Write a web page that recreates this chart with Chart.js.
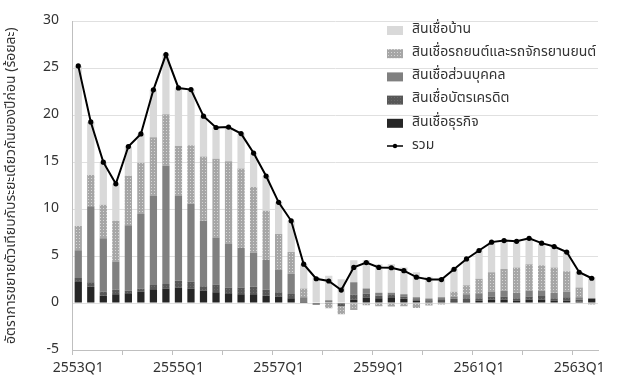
<!DOCTYPE html>
<html>
<head>
<meta charset="utf-8">
<script src="https://cdn.jsdelivr.net/npm/chart.js@4"></script>
<style>
html,body{margin:0;padding:0;background:#fff;}
#wrap{width:620px;height:382px;}
</style>
</head>
<body>
<div id="wrap"><canvas id="c" width="620" height="382"></canvas></div>
<script>
const categories = [
 '2553Q1','2553Q2','2553Q3','2553Q4','2554Q1','2554Q2','2554Q3','2554Q4',
 '2555Q1','2555Q2','2555Q3','2555Q4','2556Q1','2556Q2','2556Q3','2556Q4',
 '2557Q1','2557Q2','2557Q3','2557Q4','2558Q1','2558Q2','2558Q3','2558Q4',
 '2559Q1','2559Q2','2559Q3','2559Q4','2560Q1','2560Q2','2560Q3','2560Q4',
 '2561Q1','2561Q2','2561Q3','2561Q4','2562Q1','2562Q2','2562Q3','2562Q4',
 '2563Q1','2563Q2'
];
const seriesNames = ['สินเชื่อบ้าน','สินเชื่อรถยนต์และรถจักรยานยนต์','สินเชื่อส่วนบุคคล','สินเชื่อบัตรเครดิต','สินเชื่อธุรกิจ','รวม'];
const yTicks = [-5,0,5,10,15,20,25,30];

const business = [2.24,1.73,0.79,0.93,1.04,1.21,1.48,1.55,1.62,1.55,1.35,1.14,1.04,0.93,0.93,0.79,0.69,0.52,0.03,-0.16,0,-0.1,0.35,0.6,0.5,0.55,0.45,0.25,0.15,0.2,0.2,0.2,0.24,0.35,0.35,0.28,0.35,0.35,0.28,0.28,0.14,0.48];
const creditCard = [0.42,0.48,0.42,0.52,0.31,0.34,0.45,0.49,0.76,0.73,0.44,0.83,0.62,0.73,0.80,0.62,0.45,0.45,0.05,0,-0.1,-0.25,0.55,0.4,0.3,0.3,0.25,0.15,0.15,0.2,0.25,0.3,0.28,0.34,0.34,0.24,0.34,0.4,0.24,0.34,0.21,-0.05];
const personal = [2.96,8.11,5.69,2.97,6.93,7.94,9.53,12.59,9.01,8.31,6.97,5.00,4.62,4.21,3.62,3.18,2.38,2.14,0.54,0,0.3,0,1.31,0.55,0.3,0.25,0.23,0.22,0.18,0.22,0.25,0.43,0.52,0.55,0.62,0.58,0.62,0.56,0.58,0.59,0.27,0];
const auto = [2.59,3.31,3.56,4.34,5.28,5.45,6.21,5.49,5.35,6.21,6.84,8.39,8.83,8.45,7.00,5.24,3.83,2.34,0.93,0,-0.45,-0.85,-0.75,-0.24,-0.34,-0.38,-0.35,-0.52,-0.25,-0.15,0.5,0.97,1.55,2.04,2.31,2.7,2.83,2.73,2.7,2.17,1.04,-0.1];
const home = [17.05,5.66,4.55,3.94,3.11,3.07,5.04,6.35,6.17,5.94,4.31,3.34,3.63,3.73,3.63,3.70,3.38,3.31,2.59,2.75,2.6,2.53,2.34,3.0,3.04,3.04,2.87,2.66,2.32,2.08,2.45,2.76,3.0,3.21,3.04,2.76,2.76,2.34,2.24,2.07,1.62,2.29];
const total = [25.26,19.29,15.01,12.70,16.67,18.01,22.71,26.47,22.91,22.74,19.91,18.70,18.74,18.05,15.98,13.53,10.73,8.76,4.14,2.59,2.35,1.38,3.80,4.31,3.80,3.76,3.45,2.76,2.50,2.50,3.60,4.70,5.60,6.49,6.66,6.58,6.90,6.38,6.02,5.43,3.28,2.64];

const FONT = "'Noto Sans Thai','Noto Sans','DejaVu Sans',sans-serif";

function dotPattern(base, dot, n){
  const p = document.createElement('canvas');
  p.width = n; p.height = n;
  const g = p.getContext('2d');
  g.fillStyle = base; g.fillRect(0,0,n,n);
  g.fillStyle = dot; g.fillRect(1,1,1,1);
  return g.createPattern(p,'repeat');
}
const colHome = '#d9d9d9';
const colAuto = dotPattern('#a6a6a6','#d6d6d6',3);
const colPersonal = '#808080';
const colCC = dotPattern('#575757','#6b6b6b',3);
const colBiz = '#262626';

const legendPlugin = {
  id: 'customLegend',
  afterDraw(chart){
    const ctx = chart.ctx;
    ctx.save();
    const x0 = 387, textX = 412, y0 = 30, dy = 23.2;
    const items = [
      {label: seriesNames[0], fill: colHome},
      {label: seriesNames[1], fill: colAuto},
      {label: seriesNames[2], fill: colPersonal},
      {label: seriesNames[3], fill: colCC},
      {label: seriesNames[4], fill: colBiz},
      {label: seriesNames[5], line: true}
    ];
    ctx.font = "14px " + FONT;
    ctx.textBaseline = 'middle';
    items.forEach((it, i) => {
      const cy = y0 + i*dy;
      if (it.line){
        ctx.strokeStyle = '#000'; ctx.lineWidth = 1.5;
        ctx.beginPath(); ctx.moveTo(x0, cy); ctx.lineTo(x0+16, cy); ctx.stroke();
        ctx.fillStyle = '#000';
        ctx.beginPath(); ctx.arc(x0+8, cy, 2.2, 0, Math.PI*2); ctx.fill();
      } else {
        ctx.fillStyle = it.fill;
        ctx.fillRect(x0, cy-4, 16, 9);
      }
      ctx.fillStyle = '#333';
      ctx.fillText(it.label, textX, cy);
    });
    ctx.restore();
  }
};

const barCommon = {type:'bar', stack:'s', order:1, barPercentage:0.58, categoryPercentage:1, borderWidth:0};

new Chart(document.getElementById('c'), {
  data: {
    labels: categories,
    datasets: [
      Object.assign({label: seriesNames[4], data: business, backgroundColor: colBiz}, barCommon),
      Object.assign({label: seriesNames[3], data: creditCard, backgroundColor: colCC}, barCommon),
      Object.assign({label: seriesNames[2], data: personal, backgroundColor: colPersonal}, barCommon),
      Object.assign({label: seriesNames[1], data: auto, backgroundColor: colAuto}, barCommon),
      Object.assign({label: seriesNames[0], data: home, backgroundColor: colHome}, barCommon),
      {type:'line', label: seriesNames[5], data: total, stack:'t', order:0,
       borderColor:'#000', borderWidth:2, pointRadius:2.6, pointBackgroundColor:'#000',
       pointBorderWidth:0, tension:0, fill:false}
    ]
  },
  options: {
    responsive:false,
    animation:false,
    devicePixelRatio:1,
    layout:{padding:{top:12,right:22,left:0,bottom:0}},
    plugins:{legend:{display:false}, tooltip:{enabled:false}},
    scales:{
      x:{
        stacked:true,
        offset:true,
        grid:{offset:true, drawOnChartArea:false, drawTicks:true, tickLength:5,
              color:(c)=> (c.index % 4 === 0 ? '#bfbfbf' : 'rgba(0,0,0,0)'), lineWidth:1},
        border:{display:true, color:'#bfbfbf', width:1},
        ticks:{autoSkip:false, maxRotation:0, padding:6, color:'#333',
               font:{family:FONT, size:14},
               callback:function(v, i){ return i % 8 === 0 ? categories[i] : ''; }},
        afterFit(s){ s.height = 32; }
      },
      y:{
        stacked:true,
        min:-5, max:30,
        afterBuildTicks(s){ s.ticks = yTicks.map(v=>({value:v})); },
        grid:{color:'#e0e0e0', drawTicks:false, lineWidth:1},
        border:{display:true, color:'#bfbfbf', width:1},
        ticks:{padding:13, color:'#333', font:{family:FONT, size:14}},
        title:{display:true, text:'อัตราการขยายตัวเทียบกับระยะเดียวกันของปีก่อน (ร้อยละ)',
               color:'#333', font:{family:FONT, size:14}, padding:{top:4,bottom:0}},
        afterFit(s){ s.width = 72; }
      }
    }
  },
  plugins:[legendPlugin]
});
</script>
</body>
</html>
